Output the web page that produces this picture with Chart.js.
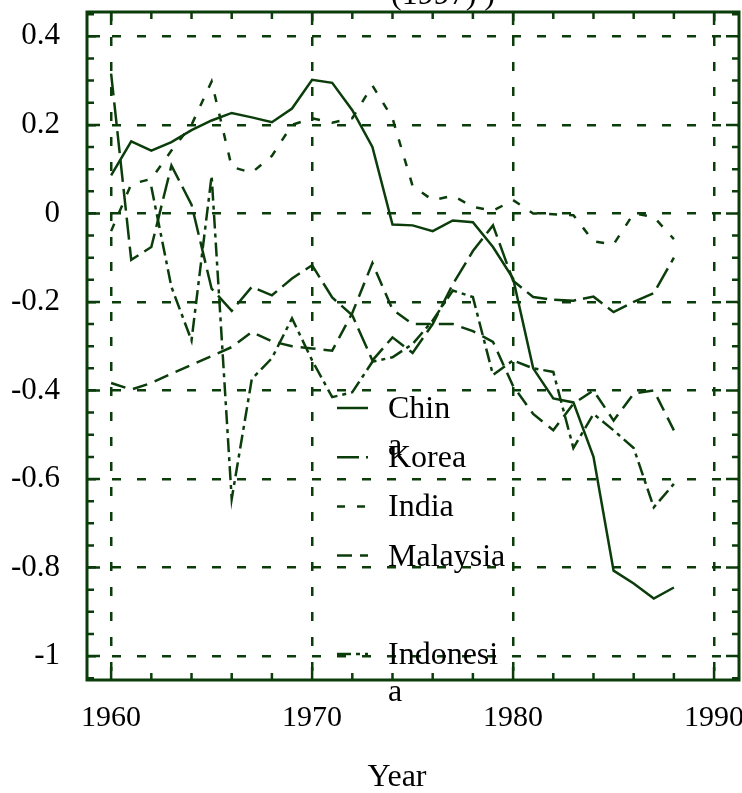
<!DOCTYPE html>
<html>
<head>
<meta charset="utf-8">
<script src="https://cdn.jsdelivr.net/npm/chart.js@4.4.0/dist/chart.umd.min.js"></script>
<style>
  html, body { margin: 0; padding: 0; background: #fff; }
  #wrap { width: 742px; height: 793px; position: relative; }
</style>
</head>
<body>
<div id="wrap"><canvas id="chart"></canvas></div>
<script>
// values
const years = [1960, 1961, 1962, 1963, 1964, 1965, 1966, 1967, 1968, 1969,
               1970, 1971, 1972, 1973, 1974, 1975, 1976, 1977, 1978, 1979,
               1980, 1981, 1982, 1983, 1984, 1985, 1986, 1987, 1988];
const china = [0.086, 0.163, 0.142, 0.161, 0.188, 0.21, 0.227, 0.217, 0.206, 0.237,
               0.302, 0.295, 0.233, 0.15, -0.025, -0.027, -0.04, -0.016, -0.02, -0.076,
               -0.147, -0.35, -0.418, -0.427, -0.55, -0.807, -0.836, -0.87, -0.845];
const korea = [0.316, -0.105, -0.076, 0.108, 0.02, -0.17, -0.22, -0.166, -0.185, -0.147,
               -0.117, -0.19, -0.23, -0.332, -0.28, -0.315, -0.25, -0.16, -0.085, -0.027,
               -0.152, -0.189, -0.195, -0.197, -0.188, -0.223, -0.2, -0.18, -0.1];
const india = [-0.04, 0.066, 0.078, 0.142, 0.2, 0.298, 0.105, 0.092, 0.13, 0.2,
               0.215, 0.205, 0.215, 0.289, 0.215, 0.062, 0.03, 0.04, 0.015, 0.006,
               0.03, 0.0, -0.002, -0.004, -0.063, -0.07, 0.0, -0.008, -0.058];
const malaysia = [-0.383, -0.398, -0.383, -0.362, -0.342, -0.322, -0.302, -0.268, -0.289, -0.3,
                  -0.305, -0.31, -0.225, -0.112, -0.217, -0.25, -0.25, -0.25, -0.266, -0.29,
                  -0.39, -0.453, -0.49, -0.43, -0.4, -0.468, -0.407, -0.4, -0.49];
const indonesia = [null, null, 0.06, -0.166, -0.287, 0.085, -0.645, -0.374, -0.327, -0.237,
                   -0.332, -0.415, -0.404, -0.335, -0.325, -0.295, -0.242, -0.174, -0.189, -0.365,
                   -0.332, -0.35, -0.358, -0.53, -0.453, -0.49, -0.53, -0.664, -0.611];

const countries = ['China', 'Korea', 'India', 'Malaysia', 'Indonesia'];
const xTicks = [1960, 1970, 1980, 1990];
const yTicks = [-1, -0.8, -0.6, -0.4, -0.2, 0, 0.2, 0.4];
const titleTail = '(1997) )';
const xTitle = 'Year';

const GREEN = '#0b3d0b';
const FONT = '"Liberation Serif", "Times New Roman", serif';
const series = [china, korea, india, malaysia, indonesia];
const dashes = [[], [22, 7], [8, 12], [15, 8], [14, 5, 4, 5]];

// legend as drawn in the original: wrapped words, one empty slot before Indonesia
const legendSlots = [0, 1, 2, 3, 5];
const legendLines = [['Chin', 'a'], ['Korea'], ['India'], ['Malaysia'], ['Indonesi', 'a']];

const framePlugin = {
  id: 'frame',
  afterDraw(chart) {
    const { ctx, chartArea: a, scales: { x, y } } = chart;
    ctx.save();
    ctx.strokeStyle = GREEN;
    ctx.setLineDash([]);
    ctx.lineWidth = 2.5;

    // inward ticks on all four sides
    ctx.beginPath();
    for (let yr = 1960; yr <= 1990; yr += 2) {
      const px = x.getPixelForValue(yr);
      const len = yr % 10 === 0 ? 13 : 7;
      ctx.moveTo(px, a.bottom); ctx.lineTo(px, a.bottom - len);
      ctx.moveTo(px, a.top); ctx.lineTo(px, a.top + len);
    }
    for (let k = -21; k <= 9; k++) {
      const py = y.getPixelForValue(k * 0.05);
      const len = k % 4 === 0 ? 13 : 7;
      ctx.moveTo(a.left, py); ctx.lineTo(a.left + len, py);
      ctx.moveTo(a.right, py); ctx.lineTo(a.right - len, py);
    }
    ctx.stroke();

    ctx.lineWidth = 3;
    ctx.strokeRect(a.left, a.top, a.right - a.left, a.bottom - a.top);

    // legend
    ctx.font = '32px ' + FONT;
    ctx.fillStyle = '#000';
    ctx.textAlign = 'left';
    ctx.textBaseline = 'alphabetic';
    chart.data.datasets.forEach((ds, i) => {
      const ly = 408 + legendSlots[i] * 49.2;
      ctx.strokeStyle = ds.borderColor;
      ctx.lineWidth = ds.borderWidth;
      ctx.setLineDash(ds.borderDash || []);
      ctx.beginPath();
      ctx.moveTo(337, ly);
      ctx.lineTo(368, ly);
      ctx.stroke();
      legendLines[i].forEach((t, j) => ctx.fillText(t, 388, ly + 10 + j * 37));
    });

    // clipped tail of the title and the x axis title
    ctx.fillText(titleTail, 391, 4);
    ctx.textAlign = 'center';
    ctx.fillText(xTitle, 397, 786);
    ctx.restore();
  }
};

new Chart(document.getElementById('chart'), {
  type: 'line',
  data: {
    datasets: countries.map((name, i) => ({
      label: name,
      data: years.map((yr, j) => ({ x: yr, y: series[i][j] })),
      borderColor: GREEN,
      borderWidth: 2.5,
      borderDash: dashes[i],
      pointRadius: 0,
      fill: false,
      tension: 0
    }))
  },
  options: {
    responsive: true,
    maintainAspectRatio: false,
    animation: false,
    layout: { padding: { top: 12, right: 3, left: 0, bottom: 0 } },
    plugins: { legend: { display: false }, tooltip: { enabled: false } },
    scales: {
      x: {
        type: 'linear',
        min: 1958.8,
        max: 1991.24,
        afterBuildTicks: s => { s.ticks = xTicks.map(v => ({ value: v })); },
        afterFit: s => { s.height = 113; s.paddingLeft = 0; s.paddingRight = 0; },
        grid: { color: GREEN, lineWidth: 2.5, drawTicks: false },
        border: { display: false, dash: [9, 16] },
        ticks: {
          autoSkip: false, maxRotation: 0, padding: 20, color: '#000',
          font: { family: FONT, size: 30 },
          callback: v => String(v)
        }
      },
      y: {
        type: 'linear',
        min: -1.054,
        max: 0.455,
        afterBuildTicks: s => { s.ticks = yTicks.map(v => ({ value: v })); },
        afterFit: s => { s.width = 87; s.paddingTop = 0; s.paddingBottom = 0; },
        grid: { color: GREEN, lineWidth: 2.5, drawTicks: false },
        border: { display: false, dash: [9, 16] },
        ticks: {
          padding: 27, color: '#000',
          font: { family: FONT, size: 31 },
          callback: v => String(Math.round(v * 10) / 10)
        }
      }
    }
  },
  plugins: [framePlugin]
});
</script>
</body>
</html>
